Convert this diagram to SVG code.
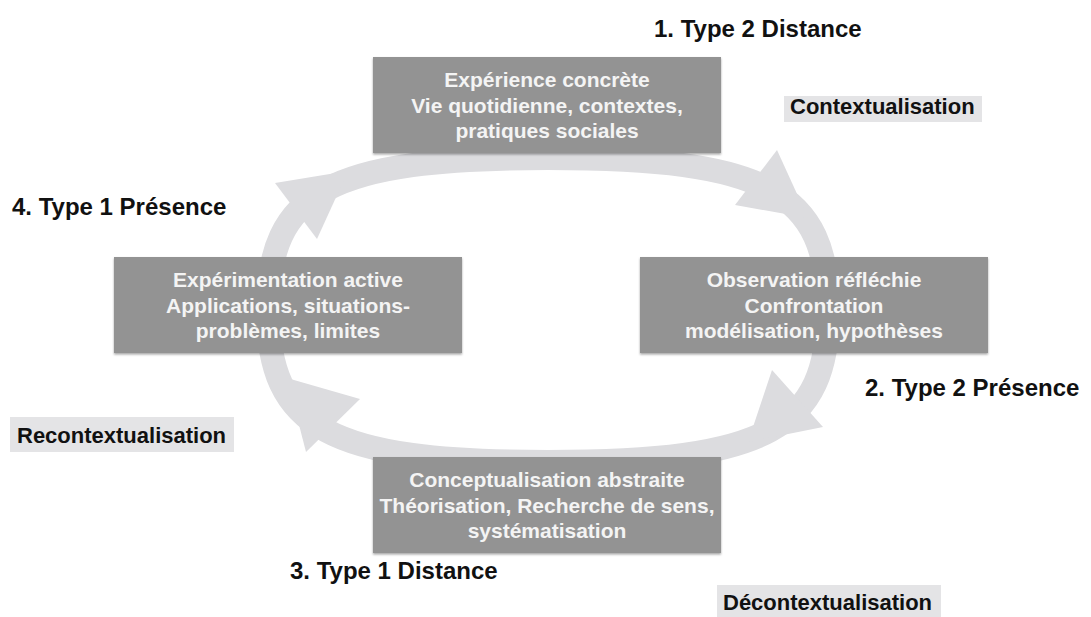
<svg xmlns="http://www.w3.org/2000/svg" width="1091" height="617" viewBox="0 0 1091 617">
<defs>
<style>
.ring{fill:none;stroke:#dcdcdf;stroke-width:24}
.head{fill:#dcdcdf}
.box{fill:#939393;filter:url(#sh)}
.bt{font-family:"Liberation Sans",Arial,sans-serif;font-weight:bold;font-size:21px;fill:#f4f4f4;text-anchor:middle}
.lbl{font-family:"Liberation Sans",Arial,sans-serif;font-weight:bold;font-size:24px;fill:#111}
.tag{font-family:"Liberation Sans",Arial,sans-serif;font-weight:bold;font-size:22px;fill:#111}
.tagbg{fill:#e4e4e6}
</style>
<filter id="sh" x="-5%" y="-10%" width="110%" height="125%">
<feDropShadow dx="0" dy="1.5" stdDeviation="1.2" flood-color="#000" flood-opacity="0.35"/>
</filter>
</defs>
<rect width="1091" height="617" fill="#fff"/>
<g id="connectors">
<path class="ring" d="M828,310 C828,191.4 766.4,158 548,158 C329.6,158 268,191.4 268,310 C268,428.6 329.6,462 548,462 C766.4,462 828,428.6 828,310 Z"/>
<polygon class="head" points="275,183 348,171 317,239"/>
<polygon class="head" points="777,150 808,218 735,205"/>
<polygon class="head" points="772,370 823,427 748,442"/>
<polygon class="head" points="360,399 287,378 306,452"/>
</g>
<g id="n-experience">
<rect class="box" x="373" y="57" width="348" height="96"/>
<text class="bt" x="547" y="86.7">Expérience concrète</text>
<text class="bt" x="547" y="112.7">Vie quotidienne, contextes,</text>
<text class="bt" x="547" y="138.3">pratiques sociales</text>
</g>
<g id="n-observation">
<rect class="box" x="640" y="257" width="348" height="96"/>
<text class="bt" x="814" y="286.7">Observation réfléchie</text>
<text class="bt" x="814" y="312.7">Confrontation</text>
<text class="bt" x="814" y="338.3">modélisation, hypothèses</text>
</g>
<g id="n-conceptualisation">
<rect class="box" x="373" y="457" width="348" height="96"/>
<text class="bt" x="547" y="486.7">Conceptualisation abstraite</text>
<text class="bt" x="547" y="512.7">Théorisation, Recherche de sens,</text>
<text class="bt" x="547" y="538.3">systématisation</text>
</g>
<g id="n-experimentation">
<rect class="box" x="114" y="257" width="348" height="96"/>
<text class="bt" x="288" y="286.7">Expérimentation active</text>
<text class="bt" x="288" y="312.7">Applications, situations-</text>
<text class="bt" x="288" y="338.3">problèmes, limites</text>
</g>
<g id="labels">
<text class="lbl" x="654" y="37">1. Type 2 Distance</text>
<text class="lbl" x="865" y="396">2. Type 2 Présence</text>
<text class="lbl" x="290" y="579">3. Type 1 Distance</text>
<text class="lbl" x="12" y="215">4. Type 1 Présence</text>
</g>
<g id="tags">
<rect class="tagbg" x="784" y="96" width="198" height="26"/>
<text class="tag" x="790" y="114">Contextualisation</text>
<rect class="tagbg" x="10" y="417" width="224" height="35"/>
<text class="tag" x="17" y="443">Recontextualisation</text>
<rect class="tagbg" x="717" y="585" width="224" height="32"/>
<text class="tag" x="723" y="610">Décontextualisation</text>
</g>
</svg>
